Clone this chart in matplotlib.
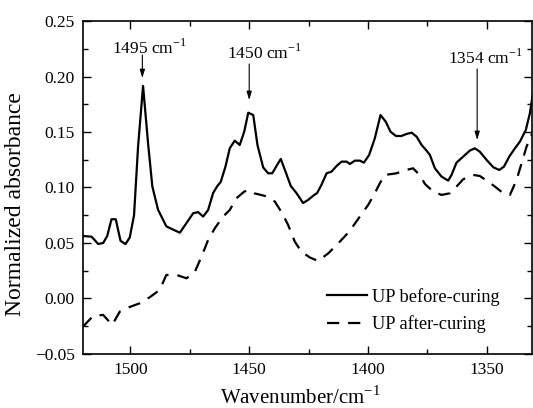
import matplotlib
matplotlib.use('Agg')
import matplotlib.pyplot as plt
from matplotlib.ticker import MultipleLocator

plt.rcParams['font.family'] = 'Liberation Serif'
plt.rcParams['mathtext.fontset'] = 'custom'
plt.rcParams['mathtext.rm'] = 'Liberation Serif'

# Spectrum before curing
wn_before = [1520, 1516.4, 1513.6, 1511.5, 1509.8, 1508, 1506.2, 1504.2, 1502.1, 1500.3,
             1498.5, 1496.8, 1494.7, 1492.6, 1490.8, 1488.4, 1484.9, 1482, 1479.2, 1476.4,
             1473.6, 1471.5, 1469.4, 1467.3, 1465.2, 1463.4, 1462, 1460, 1458.2, 1456.1,
             1454, 1452.1, 1450.4, 1448.3, 1446.5, 1444.1, 1442, 1440.3, 1438.5, 1436.7,
             1434.7, 1432.5, 1430.1, 1427.3, 1425.2, 1422.6, 1421.4, 1419.6, 1417.4, 1415.3,
             1413.2, 1411.1, 1409, 1407.6, 1405.5, 1403.4, 1401.7, 1399.5, 1397.1, 1394.7,
             1392.5, 1390.5, 1388.2, 1385.9, 1383.8, 1381.6, 1379.5, 1377.4, 1375.3, 1373.9,
             1371.8, 1369, 1366.2, 1364.8, 1362.7, 1359.9, 1357.1, 1355, 1352.9, 1350,
             1347.2, 1344.7, 1342.7, 1340.5, 1338.1, 1336, 1333.5, 1331.8, 1330.5]
ab_before = [0.0563, 0.0557, 0.0491, 0.050, 0.0563, 0.0714, 0.0714, 0.052, 0.049, 0.055,
             0.075, 0.137, 0.1915, 0.140, 0.101, 0.080, 0.065, 0.062, 0.0593, 0.068,
             0.0768, 0.0778, 0.0738, 0.0797, 0.095, 0.1014, 0.105, 0.1188, 0.1353, 0.1422,
             0.1383, 0.1503, 0.1674, 0.1653, 0.138, 0.118, 0.1128, 0.1128, 0.1194, 0.1257,
             0.1143, 0.1014, 0.095, 0.086, 0.0888, 0.0933, 0.095, 0.1023, 0.1128, 0.1143,
             0.1194, 0.1233, 0.1233, 0.1212, 0.1242, 0.1242, 0.1224, 0.1293, 0.1443, 0.1653,
             0.1593, 0.1503, 0.1464, 0.1464, 0.1482, 0.1494, 0.1458, 0.1383, 0.1332, 0.1293,
             0.1173, 0.1098, 0.1062, 0.1113, 0.1224, 0.1278, 0.1332, 0.1353, 0.1323, 0.1248,
             0.1182, 0.1158, 0.1188, 0.1278, 0.1353, 0.1413, 0.1519, 0.1669, 0.185]

# Spectrum after curing
wn_after = [1520, 1515.7, 1511.5, 1507.7, 1504.5, 1500.6, 1496.1, 1491.9, 1487.7, 1484.9,
            1480.6, 1476.4, 1472.9, 1470.1, 1467.3, 1464.5, 1461, 1458.2, 1455.4, 1452.1,
            1450.2, 1447.9, 1443.4, 1439.2, 1436.1, 1433.6, 1430.8, 1428, 1424.5, 1421,
            1416.7, 1412.5, 1407.9, 1403.4, 1399.9, 1397.1, 1395, 1392.9, 1388, 1383.8,
            1381, 1378.1, 1376, 1372.5, 1369, 1365.5, 1362.7, 1359.9, 1355.7, 1352.9,
            1350, 1346.5, 1343, 1340.2, 1337.4, 1335.3, 1333.2, 1331.1, 1330.5]
ab_after = [-0.0253, -0.0157, -0.0148, -0.0238, -0.0118, -0.0079, -0.0043, 0.0011, 0.0077, 0.0212,
            0.0212, 0.0182, 0.0240, 0.0377, 0.0527, 0.0632, 0.0738, 0.0797, 0.0903, 0.0963,
            0.0978, 0.0948, 0.0924, 0.0873, 0.0768, 0.0662, 0.0512, 0.0422, 0.0370, 0.0338,
            0.0407, 0.0497, 0.0602, 0.0738, 0.0843, 0.0948, 0.1038, 0.1113, 0.1128, 0.1158,
            0.1173, 0.1110, 0.1032, 0.0963, 0.0933, 0.0948, 0.1008, 0.1074, 0.1113, 0.1104,
            0.1062, 0.1008, 0.0948, 0.0933, 0.1068, 0.1218, 0.1368, 0.1473, 0.152]

peaks = [1495, 1450, 1354]
peak_tip = [0.1986, 0.1788, 0.1428]
peak_tail = [0.2194, 0.2113, 0.2068]
label_pos = [(1491.9, 0.2257), (1443.4, 0.2212), (1350.7, 0.2167)]

fig = plt.figure(figsize=(5.33, 4.08), dpi=100)
ax = fig.add_axes([0.1557, 0.1324, 0.842, 0.8161])

ax.plot(wn_before, ab_before, color='black', lw=1.6, label='UP before-curing')
ax.plot(wn_after, ab_after, color='black', lw=1.6, dashes=(5.5, 4), label='UP after-curing')

for p, tip, tail, (tx, ty) in zip(peaks, peak_tip, peak_tail, label_pos):
    ax.annotate('', xy=(p, tip), xytext=(p, tail),
                arrowprops=dict(arrowstyle='-|>,head_length=0.5,head_width=0.15',
                                color='black', lw=0.8, shrinkA=0, shrinkB=0))
    ax.text(tx, ty, '%d cm$^{-1}$' % p, ha='center', va='center', fontsize=12.5)

ax.set_xlim(1520, 1331)
ax.set_ylim(-0.05, 0.25)
ax.xaxis.set_major_locator(MultipleLocator(50))
ax.xaxis.set_minor_locator(MultipleLocator(25))
ax.yaxis.set_major_locator(MultipleLocator(0.05))
ax.yaxis.set_minor_locator(MultipleLocator(0.025))
ax.tick_params(which='both', direction='in', top=True, right=True, labelsize=12.5, pad=6)
ax.tick_params(which='major', length=6, width=1)
ax.tick_params(which='minor', length=3.5, width=1)
ax.set_yticks([-0.05, 0, 0.05, 0.1, 0.15, 0.2, 0.25])
ax.set_yticklabels(['\u22120.05', '0.00', '0.05', '0.10', '0.15', '0.20', '0.25'])
for s in ax.spines.values():
    s.set_linewidth(1.2)

ax.set_xlabel('Wavenumber/cm$^{-1}$', fontsize=15)
ax.xaxis.set_label_coords(0.484, -0.097)
ax.set_ylabel('Normalized absorbance', fontsize=17)
ax.yaxis.set_label_coords(-0.128, 0.45)

ax.legend(loc='lower right', bbox_to_anchor=(0.966, 0.012), frameon=False, fontsize=13.2,
          handlelength=2.2, handletextpad=0.3, labelspacing=0.55)

fig.savefig('out.png', dpi=100)
